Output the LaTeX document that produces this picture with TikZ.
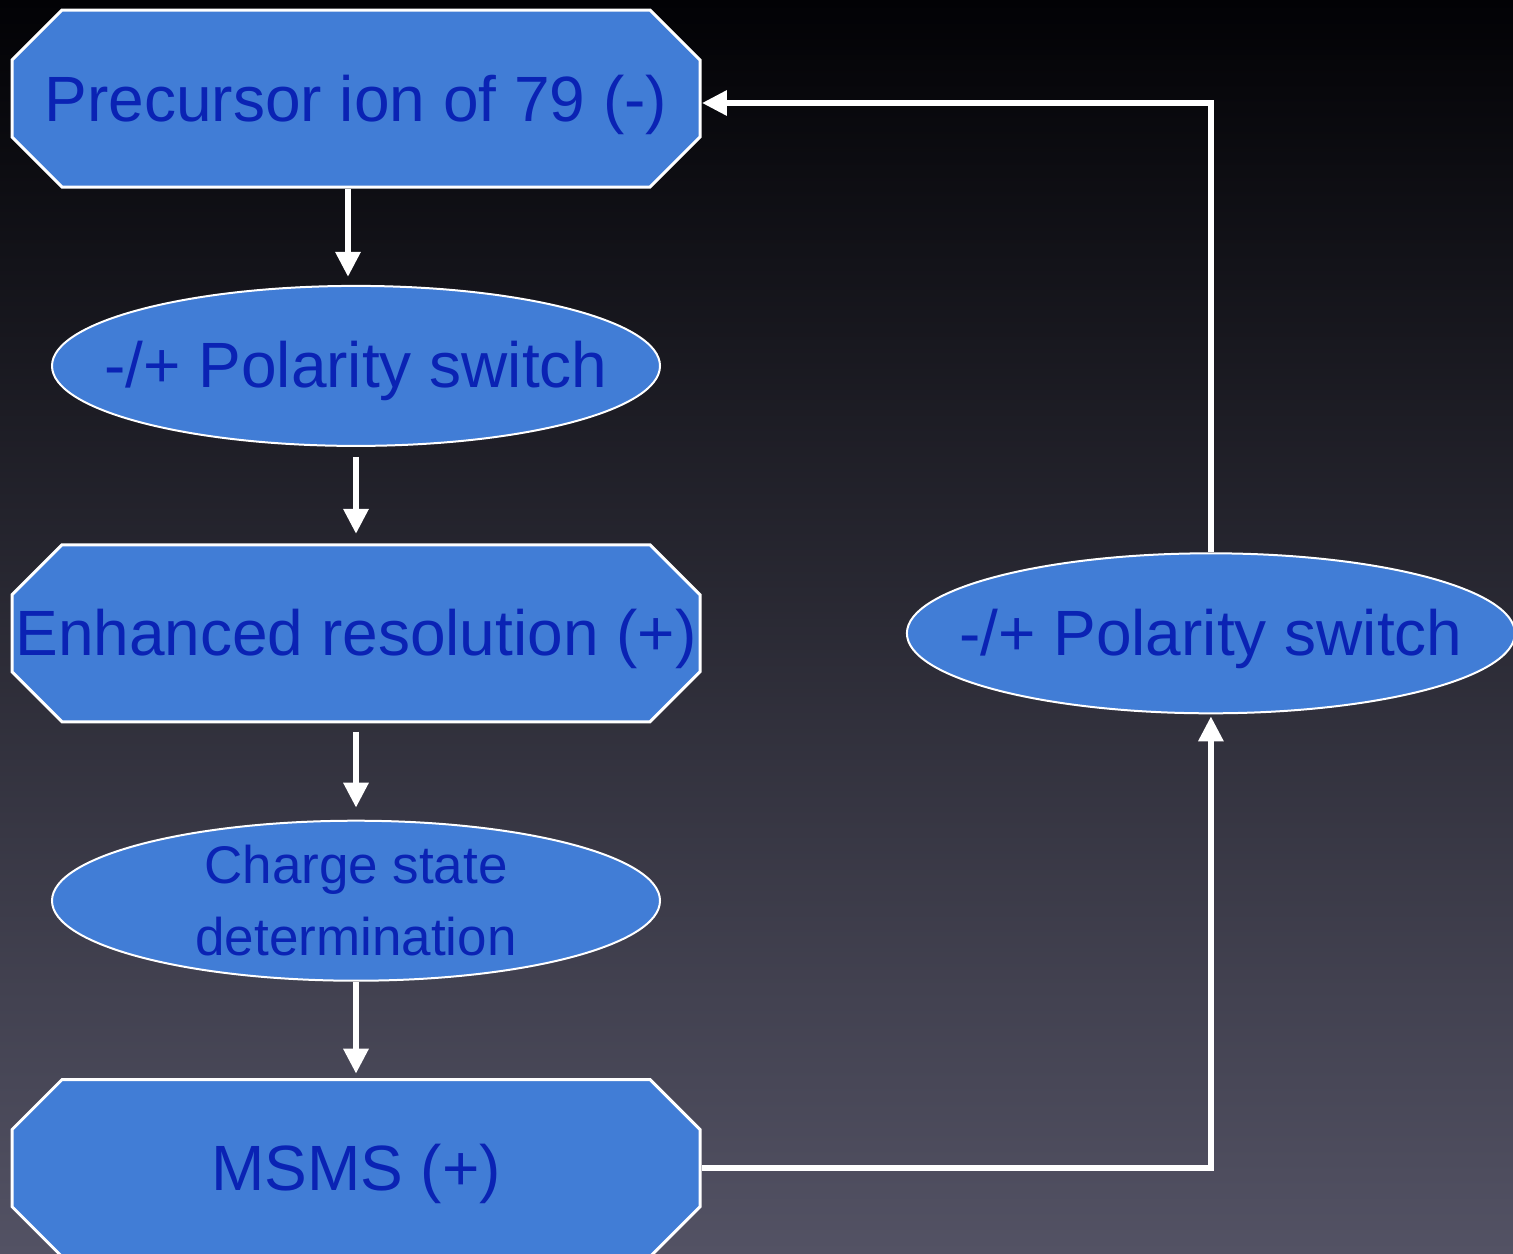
\documentclass[tikz,border=0pt]{standalone}
\usepackage{fontspec}
\setmainfont{Liberation Sans}
\usetikzlibrary{positioning,shapes.geometric,arrows.meta}
\definecolor{fondhaut}{RGB}{2,2,5}
\definecolor{fondbas}{RGB}{83,82,100}
\definecolor{bleuboite}{RGB}{65,125,214}
\definecolor{bleutexte}{RGB}{10,35,180}
\tikzstyle{octo}=[rectangle,minimum width=345.5pt,minimum height=90pt,inner sep=0pt,text=bleutexte,font=\fontsize{32}{38}\selectfont,text height=22.5pt,text depth=0pt,
  path picture={\filldraw[fill=bleuboite,draw=white,line width=1.5pt]
    ([shift={(25.75pt,-0.75pt)}]path picture bounding box.north west) -- ([shift={(-25.75pt,-0.75pt)}]path picture bounding box.north east)
    -- ([shift={(-0.75pt,-25.75pt)}]path picture bounding box.north east) -- ([shift={(-0.75pt,25.75pt)}]path picture bounding box.south east)
    -- ([shift={(-25.75pt,0.75pt)}]path picture bounding box.south east) -- ([shift={(25.75pt,0.75pt)}]path picture bounding box.south west)
    -- ([shift={(0.75pt,25.75pt)}]path picture bounding box.south west) -- ([shift={(0.75pt,-25.75pt)}]path picture bounding box.north west) -- cycle;}]
\tikzstyle{ovale}=[ellipse,draw=white,line width=1pt,fill=bleuboite,text=bleutexte,minimum width=304pt,minimum height=80pt,inner xsep=-40pt,inner ysep=-20pt,align=center,font=\fontsize{32}{38}\selectfont,text height=22pt,text depth=0pt]
\tikzstyle{fleche}=[->,draw=white,line width=3pt]

\begin{document}
\begin{tikzpicture}[>={Triangle[width=12pt,length=12.5pt]},node distance=48pt]

\shade[top color=fondhaut,bottom color=fondbas] (0,0) rectangle (756.5pt,-626.5pt);
\useasboundingbox (0,0) rectangle (756.5pt,-626.5pt);

\node[octo] (P10) at (178pt,-49.25pt) {Precursor ion of 79 (-)};
\node[ovale] (S20) [below =of P10] {-/+ Polarity switch};
\node[octo] (E30) [below =of S20] {Enhanced resolution (+)};
\node[ovale,font=\fontsize{26.5}{36}\selectfont,text height=,text depth=] (C40) [below =of E30] {Charge state\\determination};
\node[octo] (M50) [below =of C40] {MSMS (+)};
\node[ovale] (S31) [right =102pt of E30] {-/+ Polarity switch};

\draw[fleche,shorten >=4pt] ([xshift=-4pt]P10.south) to ([xshift=-4pt]S20.north);
\draw[fleche,shorten <=5pt,shorten >=4.5pt] (S20.south) to (E30.north);
\draw[fleche,shorten <=4pt,shorten >=6pt] (E30.south) to (C40.north);
\draw[fleche,shorten >=2pt] (C40.south) to (M50.north);
\draw[fleche,shorten >=1pt] (M50.east) -| (S31.south);
\draw[fleche] (S31.north) |- ([yshift=-2.25pt]P10.east);

\end{tikzpicture}
\end{document}
